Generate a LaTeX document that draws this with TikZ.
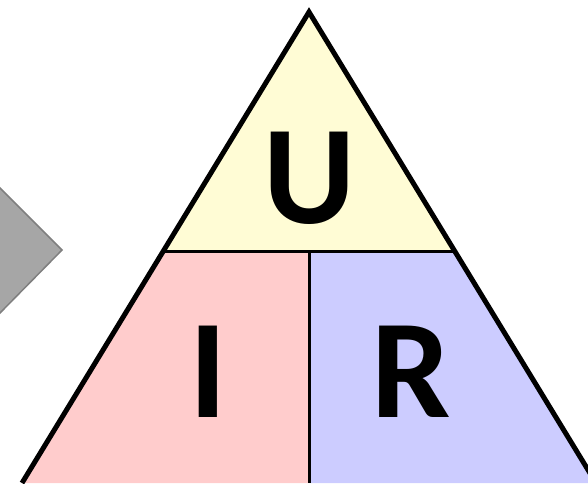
\documentclass[tikz,border=0pt]{standalone}
\usepackage{fontspec}
\setmainfont{Carlito}
\usetikzlibrary{positioning}
\definecolor{uyellow}{RGB}{255,252,213}
\definecolor{ipink}{RGB}{255,204,204}
\definecolor{rblue}{RGB}{204,204,255}
\definecolor{arrowgray}{RGB}{166,166,166}
\definecolor{arrowedge}{RGB}{127,127,127}
\begin{document}
\begin{tikzpicture}[
  x=1pt,y=-1pt,
  outer/.style={draw=black,line width=5pt,line join=miter},
  inner/.style={draw=black,line width=3pt},
  letter/.style={anchor=base,inner sep=0pt,font=\bfseries\fontsize{141}{141}\selectfont}
]
\useasboundingbox (0,0) rectangle (588,483);
\clip (0,0) rectangle (588,483);
% ---- arrow on the left ----
\fill[arrowgray,draw=arrowedge,line width=1.5pt] (-62,250) -- (0,188) -- (62,250) -- (0,313) -- cycle;
% ---- triangle ----
\coordinate (top) at (309,12);
\coordinate (bl) at (22,483);
\coordinate (br) at (596,483);
\coordinate (ml) at (163.4,251);
\coordinate (mr) at (454.6,251);
\coordinate (mm) at (309,251);
\coordinate (bm) at (309,483);
\fill[uyellow] (top) -- (mr) -- (ml) -- cycle;
\fill[ipink] (ml) -- (mm) -- (bm) -- (bl) -- cycle;
\fill[rblue] (mm) -- (mr) -- (br) -- (bm) -- cycle;
\draw[inner] (ml) -- (mr);
\draw[inner] (mm) -- (bm);
\draw[outer] (bl) -- (top) -- (br);
% ---- letters ----
\node[letter] (u) at (310,223) {U};
\node[letter] (i) at (208,417) {I};
\node[letter] (r) at (411,417) {R};
\end{tikzpicture}
\end{document}
